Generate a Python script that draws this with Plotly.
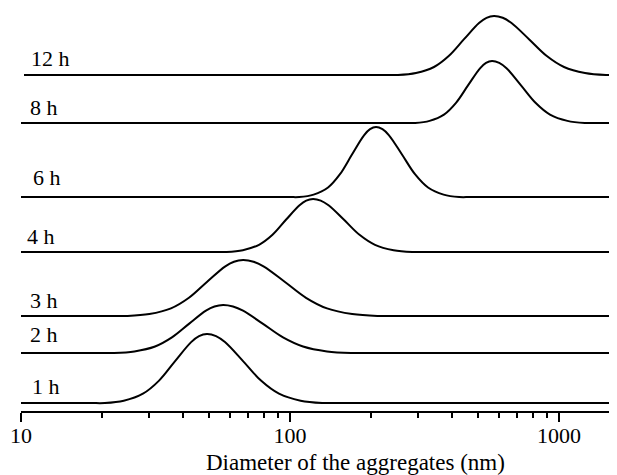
import plotly.graph_objects as go
import math

# ---- data (diameter in nm, intensity in arbitrary units) ----
series_labels = ["1 h", "2 h", "3 h", "4 h", "6 h", "8 h", "12 h"]
baseline_offsets = [8, 58, 95, 159, 214, 288, 336]

d_1h = [10, 18.0, 20.5, 24.1, 28.4, 32.6, 37.4, 42.9, 45.9, 49.1, 53.1, 57.3, 66.9, 78.0, 91.0, 109.5, 131.7, 150, 1643]
i_1h = [0, 0, 0, 2.3, 9.3, 22.4, 41.9, 60.9, 66.9, 69, 66.9, 60.9, 41.9, 22.4, 9.3, 2.3, 0, 0, 0]

d_2h = [10, 19.5, 22.2, 26.4, 31.5, 36.4, 42.1, 48.7, 52.4, 56.4, 61.4, 66.9, 79.4, 94.2, 111.8, 137.3, 168.5, 195, 1643]
i_2h = [0, 0, 0, 1.6, 6.5, 15.6, 29.1, 42.3, 46.5, 48, 46.5, 42.3, 29.1, 15.6, 6.5, 1.6, 0, 0, 0]

d_3h = [10, 21.5, 24.9, 30.0, 36.1, 42.1, 49.1, 57.3, 61.9, 66.9, 73.2, 80.0, 95.8, 114.7, 137.3, 170.3, 211.3, 250, 1643]
i_3h = [0, 0, 0, 1.9, 7.6, 18.2, 34.0, 49.4, 54.3, 56, 54.3, 49.4, 34.0, 18.2, 7.6, 1.9, 0, 0, 0]

d_4h = [10, 52.0, 58.1, 66.8, 76.7, 86.1, 96.6, 108.5, 114.9, 121.8, 130.1, 139.1, 158.8, 181.3, 207.0, 242.7, 284.6, 325, 1643]
i_4h = [0, 0, 0, 1.8, 7.2, 17.2, 32.2, 46.7, 51.4, 53, 51.4, 46.7, 32.2, 17.2, 7.2, 1.8, 0, 0, 0]

d_6h = [10, 98.0, 108.2, 122.4, 138.5, 153.4, 170.0, 188.4, 198.4, 208.8, 220.7, 233.4, 260.8, 291.5, 325.9, 372.4, 425.6, 475, 1643]
i_6h = [0, 0, 0, 2.4, 9.5, 22.8, 42.5, 61.7, 67.8, 70, 67.8, 61.7, 42.5, 22.8, 9.5, 2.4, 0, 0, 0]

d_8h = [10, 264.0, 292.0, 330.3, 373.6, 414.1, 458.9, 508.6, 535.4, 563.6, 599.6, 638.1, 722.4, 817.8, 925.8, 1074.5, 1247, 1420, 1643]
i_8h = [0, 0, 0, 2.1, 8.4, 20.2, 37.6, 54.7, 60.1, 62, 60.1, 54.7, 37.6, 20.2, 8.4, 2.1, 0, 0, 0]

d_12h = [10.26, 222.0, 252.0, 294.0, 343.0, 390.0, 443.6, 504.3, 537.7, 573.3, 617.8, 666.0, 773.5, 898.5, 1044, 1249, 1495, 1580, 1643]
i_12h = [0, 0, 0, 2.0, 8.0, 19.2, 35.8, 52.0, 57.2, 59, 57.2, 52.0, 35.8, 19.2, 8.0, 2.0, 0, 0, 0]

tick_values = [10, 100, 1000]
tick_labels = ["10", "100", "1000"]
x_title = "Diameter of the aggregates (nm)"

diameters = [d_1h, d_2h, d_3h, d_4h, d_6h, d_8h, d_12h]
intensities = [i_1h, i_2h, i_3h, i_4h, i_6h, i_8h, i_12h]

FONT = "Liberation Serif, Times New Roman, serif"

fig = go.Figure()
for lab, off, ds, vs in zip(series_labels, baseline_offsets, diameters, intensities):
    fig.add_trace(go.Scatter(
        x=ds, y=[off + v for v in vs], mode="lines", name=lab,
        line=dict(color="black", width=2, shape="spline", smoothing=1.0),
        showlegend=False, hoverinfo="skip",
    ))

# page body has an 8px margin; compensate so the plot lands where the reference has it
BODY = 8
L, T = 21 - BODY, 11 - BODY
label_left_px = [30, 28, 28, 25, 31, 28, 29]
label_gap = [7, 9, 6, 6, 10, 6, 7]
annotations = []
for lab, off, lx, g in zip(series_labels, baseline_offsets, label_left_px, label_gap):
    annotations.append(dict(
        text=lab, xref="paper", yref="y", x=(lx - 21) / 596, y=off + g - 5,
        xanchor="left", yanchor="bottom", showarrow=False,
        font=dict(family=FONT, size=22, color="black"),
    ))
annotations.append(dict(
    text=x_title, xref="paper", yref="paper", x=(355 - 21) / 596, y=-0.128,
    xanchor="center", yanchor="middle", showarrow=False,
    font=dict(family=FONT, size=23, color="black"),
))

fig.update_layout(
    width=617 - BODY, height=475 - BODY,
    margin=dict(l=L, r=0, t=T, b=64, autoexpand=False),
    paper_bgcolor="white", plot_bgcolor="white",
    font=dict(family=FONT, size=22, color="black"),
    annotations=annotations,
    xaxis=dict(
        type="log", range=[1, math.log10(1643)],
        tickvals=tick_values, ticktext=tick_labels,
        showline=True, linecolor="black", linewidth=2,
        ticks="outside", ticklen=9, tickwidth=2, tickcolor="black",
        ticklabelstandoff=-5,
        showgrid=False, zeroline=False,
        tickfont=dict(family=FONT, size=22, color="black"),
        minor=dict(ticks="outside", ticklen=5, tickwidth=1.5, tickcolor="black",
                   dtick="D1", showgrid=False),
    ),
    yaxis=dict(range=[0, 400], visible=False, showgrid=False, zeroline=False),
)

fig.write_html("out.html")
